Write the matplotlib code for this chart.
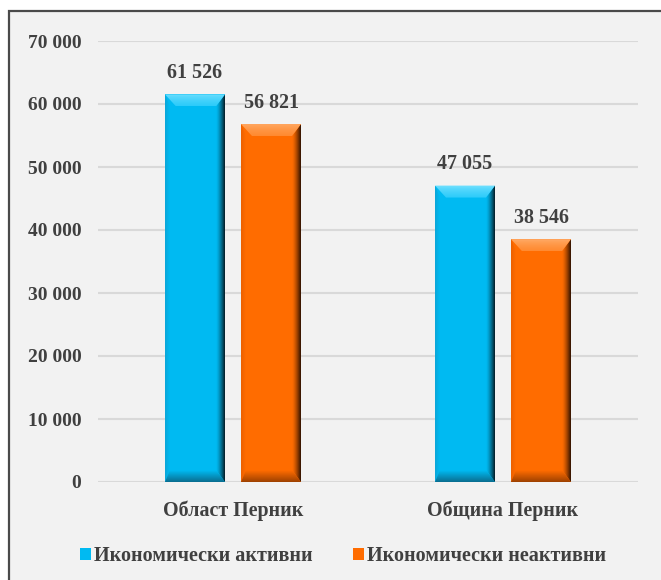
import matplotlib
matplotlib.use("Agg")
import matplotlib.pyplot as plt
import numpy as np
from matplotlib.patches import Polygon, Rectangle
from matplotlib.colors import to_rgb

categories = ["Област Перник", "Община Перник"]
series_names = ["Икономически активни", "Икономически неактивни"]
active = [61526, 47055]
inactive = [56821, 38546]
values = [active, inactive]
yticks = [0, 10000, 20000, 30000, 40000, 50000, 60000, 70000]
ytick_labels = ["0", "10 000", "20 000", "30 000", "40 000", "50 000", "60 000", "70 000"]
data_labels = [["61 526", "47 055"], ["56 821", "38 546"]]

main_cols = ["#00BAF2", "#FF6C00"]
top_a = ["#7FE4FF", "#FFB070"]
top_b = ["#2CCBFA", "#FF8A30"]
left_cols = ["#0AA6D8", "#EC6000"]
dark_cols = ["#051C26", "#301200"]
bottom_cols = ["#0A6F92", "#A04200"]

W, H = 661, 580
fig = plt.figure(figsize=(W / 100, H / 100), dpi=100, facecolor="white")
bg = Rectangle((9 / W, -0.05), 1, (H - 11) / H + 0.05, transform=fig.transFigure,
               facecolor="#F2F2F2", edgecolor="#4A4A4A", linewidth=1.6, zorder=-10)
fig.add_artist(bg)

ax = fig.add_axes([98 / W, 98 / H, 540 / W, 441 / H])
ax.set_facecolor("none")
ax.set_zorder(5)
ax.set_xlim(-0.5, 1.5)
ax.set_ylim(0, 70000)

for s in ax.spines.values():
    s.set_visible(False)
ax.set_yticks(yticks)
ax.set_yticklabels(ytick_labels)
ax.tick_params(axis="y", length=0, pad=12)
ax.tick_params(axis="x", length=0, pad=13)
ax.grid(axis="y", color="#D9D9D9", linewidth=1.5)
ax.set_axisbelow(True)
ax.set_xticks(range(len(categories)))
ax.set_xticklabels(categories)
for lab in ax.get_yticklabels() + ax.get_xticklabels():
    lab.set_fontfamily("Liberation Serif")
    lab.set_fontweight("bold")
    lab.set_color("#404040")
for lab in ax.get_yticklabels():
    lab.set_fontsize(14)
for lab in ax.get_xticklabels():
    lab.set_fontsize(14.4)

bw = 60 / 270
off = 38 / 270
px_x = 1 / 270.0
px_y = 70000 / 441.0


def grad_img(ca, cb, n=32, power=1.0):
    t = np.linspace(0, 1, n) ** power
    ca = np.array(to_rgb(ca)); cb = np.array(to_rgb(cb))
    return ca[None, :] * (1 - t[:, None]) + cb[None, :] * t[:, None]


x = np.arange(len(categories))
for si, vals in enumerate(values):
    xs = x + (-off if si == 0 else off)
    bars = ax.bar(xs, vals, width=bw, color=main_cols[si], zorder=3,
                  edgecolor="none", label=series_names[si])
    for bar, lbl in zip(bars, data_labels[si]):
        x0 = bar.get_x(); x1 = x0 + bar.get_width(); h = bar.get_height()
        bx = 11 * px_x; by = 12 * px_y
        lx = 5 * px_x
        rx = 9 * px_x
        # left bevel
        lp = Polygon([(x0, 0), (x0 + lx, by), (x0 + lx, h - by), (x0, h)], closed=True,
                     facecolor="none", edgecolor="none", zorder=4)
        ax.add_patch(lp)
        g = grad_img(left_cols[si], main_cols[si], 16)[None, :, :]
        im = ax.imshow(g, extent=[x0, x0 + lx, 0, h], aspect="auto", zorder=4,
                       interpolation="bilinear")
        im.set_clip_path(lp)
        # right bevel gradient
        rp = Polygon([(x1, h), (x1, 0), (x1 - rx, by), (x1 - rx, h - by)], closed=True,
                     facecolor="none", edgecolor="none", zorder=5)
        ax.add_patch(rp)
        g = grad_img(main_cols[si], dark_cols[si], 32, 1.4)[None, :, :]
        im = ax.imshow(g, extent=[x1 - rx, x1, 0, h], aspect="auto", zorder=5,
                       interpolation="bilinear")
        im.set_clip_path(rp)
        # top bevel gradient (light at top)
        tp = Polygon([(x0, h), (x1, h), (x1 - rx, h - by), (x0 + bx, h - by)],
                     closed=True, facecolor="none", edgecolor="none", zorder=6)
        ax.add_patch(tp)
        g = grad_img(top_a[si], top_b[si], 32, 0.6)[:, None, :]
        im = ax.imshow(g, extent=[x0, x1, h - by, h], aspect="auto", zorder=6,
                       interpolation="bilinear", origin="upper")
        im.set_clip_path(tp)
        # bottom bevel gradient (darker at bottom)
        bp = Polygon([(x0, 0), (x1, 0), (x1 - rx, by), (x0 + lx, by)], closed=True,
                     facecolor="none", edgecolor="none", zorder=6)
        ax.add_patch(bp)
        g = grad_img(main_cols[si], bottom_cols[si], 16)[:, None, :]
        im = ax.imshow(g, extent=[x0, x1, 0, by], aspect="auto", zorder=6,
                       interpolation="bilinear", origin="upper")
        im.set_clip_path(bp)
        ax.annotate(lbl, (bar.get_x() + bar.get_width() / 2, h), xytext=(0, 8),
                    textcoords="offset points", ha="center", va="bottom",
                    fontfamily="Liberation Serif", fontweight="bold", fontsize=14.4,
                    color="#404040", zorder=7)

ax.set_xlim(-0.5, 1.5)
ax.set_ylim(0, 70000)

leg = ax.legend(loc="upper center", bbox_to_anchor=((343 - 98) / 540, -0.105), ncol=2,
                frameon=False,
                prop={"family": "Liberation Serif", "weight": "bold", "size": 14.5},
                handlelength=0.55, handleheight=0.55, handletextpad=0.15, columnspacing=2.0)
for t in leg.get_texts():
    t.set_color("#404040")

fig.savefig("out.png", dpi=100, facecolor="white")
